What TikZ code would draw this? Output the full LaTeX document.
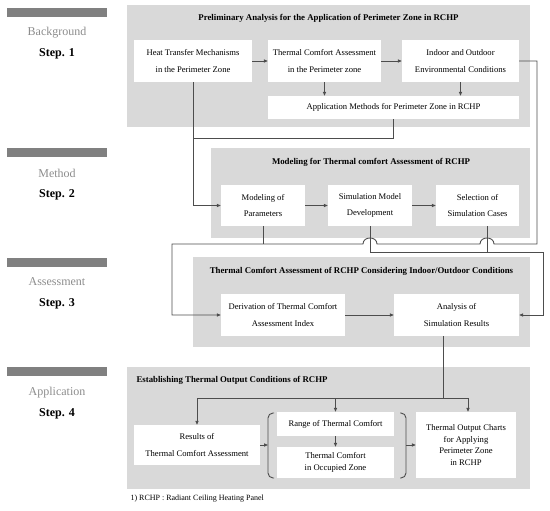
\documentclass[tikz,border=0pt]{standalone}
\usepackage{fontspec}
\setmainfont{Liberation Serif}
\usetikzlibrary{arrows.meta}
\definecolor{panelgray}{HTML}{D9D9D9}
\definecolor{bargray}{HTML}{808080}
\definecolor{stagegray}{HTML}{8C8C8C}
\definecolor{linegray}{HTML}{4D4D4D}

\begin{document}
\begin{tikzpicture}
[x=1pt, y=-1pt,
panel/.style ={rectangle, fill=panelgray, inner sep=0pt},
block/.style ={rectangle, fill=white, align=center, inner sep=1pt,
font=\fontsize{8.6}{11.5}\selectfont},
title/.style ={font=\bfseries\fontsize{8.8}{10}\selectfont},
bar/.style ={rectangle, fill=bargray, minimum width=100pt,
minimum height=9pt, inner sep=0pt},
stage/.style ={text=stagegray, font=\fontsize{12}{14}\selectfont},
stepno/.style ={font=\bfseries\fontsize{12}{14}\selectfont},
line/.style ={draw=linegray, line width=0.9pt},
arrow/.style ={line, -{Triangle[length=4pt,width=3.2pt]}}]
\useasboundingbox (0,0) rectangle (550,511);
% left column
\node [bar] (bar1) at (57,12.5) {};
\node [stage] (bg) at (57,33) {Background};
\node [stepno] (s1) at (57,54) {Step. 1};
\node [bar] (bar2) at (57,152.5) {};
\node [stage] (me) at (57,173) {Method};
\node [stepno] (s2) at (57,195) {Step. 2};
\node [bar] (bar3) at (57,262.5) {};
\node [stage] (as) at (57,282) {Assessment};
\node [stepno] (s3) at (57,304) {Step. 3};
\node [bar] (bar4) at (57,371.5) {};
\node [stage] (ap) at (57,393) {Application};
\node [stepno] (s4) at (57,414) {Step. 4};
% panels
\node [panel, minimum width=403pt, minimum height=122pt] (p1) at (328.5,66) {};
\node [panel, minimum width=319pt, minimum height=90pt] (p2) at (370.5,193) {};
\node [panel, minimum width=337pt, minimum height=90pt] (p3) at (361.5,302) {};
\node [panel, minimum width=403pt, minimum height=122pt] (p4) at (328.5,428) {};
\node [title] (t1) at (328.5,18) {Preliminary Analysis for the Application of Perimeter Zone in RCHP};
\node [title] (t2) at (371,162) {Modeling for Thermal comfort Assessment of RCHP};
\node [title] (t3) at (361.5,271) {Thermal Comfort Assessment of RCHP Considering Indoor/Outdoor Conditions};
\node [title, anchor=west] (t4) at (133,380) {Establishing Thermal Output Conditions of RCHP};
% step 1
\node [block, minimum width=118pt, minimum height=42pt] (heat) at (193,61)
{Heat Transfer Mechanisms\\[5pt]in the Perimeter Zone};
\node [block, minimum width=113pt, minimum height=42pt] (comfort) at (324.5,61)
{Thermal Comfort Assessment\\[5pt]in the Perimeter zone};
\node [block, minimum width=117pt, minimum height=42pt] (envcond) at (460.5,61)
{Indoor and Outdoor\\[5pt]Environmental Conditions};
\node [block, minimum width=251pt, minimum height=23pt] (appmeth) at (393.5,107.5)
{Application Methods for Perimeter Zone in RCHP};
% step 2
\node [block, minimum width=84pt, minimum height=41pt] (modeling) at (263,205.5)
{Modeling of\\[5pt]Parameters};
\node [block, minimum width=84pt, minimum height=41pt] (simdev) at (370,205.5)
{Simulation Model\\[5pt]Development};
\node [block, minimum width=83pt, minimum height=41pt] (simcase) at (477.5,205.5)
{Selection of\\[5pt]Simulation Cases};
% step 3
\node [block, minimum width=124pt, minimum height=42pt] (deriv) at (283,315)
{Derivation of Thermal Comfort\\[5pt]Assessment Index};
\node [block, minimum width=125pt, minimum height=42pt] (analysis) at (456.5,315)
{Analysis of\\[5pt]Simulation Results};
% step 4
\node [block, minimum width=126pt, minimum height=40pt] (results) at (197,445)
{Results of\\[5pt]Thermal Comfort Assessment};
\node [block, minimum width=117pt, minimum height=24pt] (range) at (335.5,424)
{Range of Thermal Comfort};
\node [block, minimum width=117pt, minimum height=31pt] (occupied) at (335.5,462.5)
{Thermal Comfort\\in Occupied Zone};
\node [block, minimum width=100pt, minimum height=66pt] (outchart) at (466,445)
{Thermal Output Charts\\for Applying\\Perimeter Zone\\in RCHP};
\node [anchor=west, font=\fontsize{8}{10}\selectfont] (note) at (127,499)
{1) RCHP : Radiant Ceiling Heating Panel};
% junctions
\coordinate (j1) at (193,138);
\coordinate (j2) at (443.5,398);
\coordinate (lbr) at (268,445);
\coordinate (rbr) at (406,445);
% connectors
\draw [arrow] (heat) -- (comfort);
\draw [arrow] (comfort) -- (envcond);
\draw [arrow] (comfort.south) -- (comfort.south |- appmeth.north);
\draw [arrow] (envcond.south) -- (envcond.south |- appmeth.north);
\draw [arrow] (heat.south) |- (modeling.west);
\draw [line] (appmeth.south) |- (j1);
\draw [arrow] (modeling) -- (simdev);
\draw [arrow] (simdev) -- (simcase);
\draw [arrow] (envcond.east) -| (537,244) -- (494,244)
.. controls (494,236) and (480,236) .. (480,244) -- (377,244)
.. controls (377,236) and (363,236) .. (363,244) -| (172,315) -- (deriv.west);
\draw [line] (modeling.south) -- (modeling.south |- 0,244);
\draw [arrow] (simdev.south) |- (543,252) |- (analysis.east);
\draw [line] ([xshift=9.5pt]simcase.south) -- ++(0,26);
\draw [arrow] (deriv) -- (analysis);
\draw [line] ([xshift=-13pt]analysis.south) -- (j2);
\draw [arrow] (j2) -| (results.north);
\draw [arrow] (j2) -| ([xshift=2pt]outchart.north);
\draw [arrow] (range.north |- j2) -- (range.north);
\draw [arrow] (range) -- (occupied);
\draw [line, rounded corners=5pt] (274,413) -- (268,413) -- (268,478) -- (274,478);
\draw [line, rounded corners=5pt] (400,413) -- (406,413) -- (406,478) -- (400,478);
\draw [arrow] (results.east) -- (lbr);
\draw [arrow] (rbr) -- (outchart.west);
\end{tikzpicture}
\end{document}
